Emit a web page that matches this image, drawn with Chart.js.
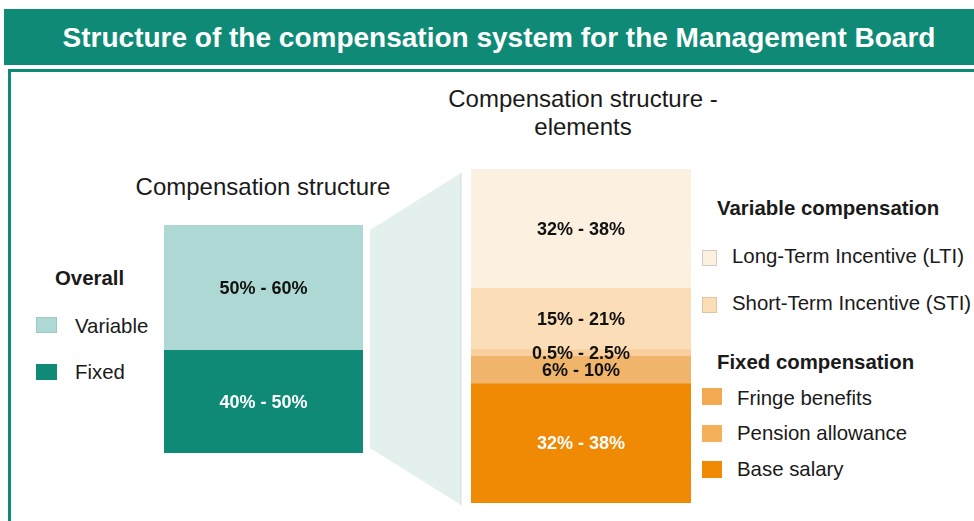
<!DOCTYPE html>
<html>
<head>
<meta charset="utf-8">
<script src="https://cdn.jsdelivr.net/npm/chart.js@4.4.1/dist/chart.umd.min.js"></script>
<style>
  html, body { margin:0; padding:0; background:#fff; }
  body { width:974px; height:521px; position:relative; overflow:hidden; font-family:"Liberation Sans", Arial, sans-serif; color:#1a1a1a; }
  .abs { position:absolute; }
  #titlebar { left:4px; top:9px; width:990px; height:56px; background:#0E8A77; color:#fff; font-weight:bold; font-size:28px; line-height:57px; text-align:center; }
  #frame { left:8px; top:69px; width:990px; height:480px; border:3px solid #0E8A77; box-sizing:border-box; }
  .sub { font-size:24px; text-align:center; line-height:28px; }
  .lg { font-size:20.4px; white-space:nowrap; }
  .lgb { font-weight:bold; }
  .sw { position:absolute; box-sizing:border-box; }
</style>
</head>
<body>
<div id="titlebar" class="abs">Structure of the compensation system for the Management Board</div>
<div id="frame" class="abs"></div>

<svg class="abs" style="left:0;top:0" width="974" height="521">
  <polygon points="370,230 461,173 461,505 370,448" fill="#E4F0ED"/>
  <line x1="461" y1="173" x2="461" y2="505" stroke="#D3DEDB" stroke-width="1"/>
</svg>

<div class="abs sub" style="left:113px; top:173px; width:300px;">Compensation structure</div>
<div class="abs sub" style="left:423px; top:85px; width:320px;">Compensation structure -<br>elements</div>

<canvas id="leftChart" class="abs" width="199" height="228" style="left:164px; top:225px;"></canvas>
<canvas id="rightChart" class="abs" width="220" height="334" style="left:471px; top:169px;"></canvas>

<div id="legends"></div>

<script>
// ---- data ----
const overallLabels = ['Fixed', 'Variable'];
const overallValues = [45, 55];
const overallRanges = ['40% - 50%', '50% - 60%'];

const elementLabels = ['Base salary', 'Pension allowance', 'Fringe benefits', 'Short-Term Incentive (STI)', 'Long-Term Incentive (LTI)'];
const elementValues = [35, 8, 2, 18, 35];
const elementRanges = ['32% - 38%', '6% - 10%', '0.5% - 2.5%', '15% - 21%', '32% - 38%'];

// ---- styles ----
const overallColors = ['#0E8A77', '#ADD8D3'];
const overallText = ['#ffffff', '#111111'];
const elementColors = ['#F08A05', '#F0B56B', '#F9CF9E', '#FBDDB8', '#FCF0E0'];
const elementText = ['#ffffff', '#111111', '#111111', '#111111', '#111111'];

const labelPlugin = {
  id: 'segLabels',
  afterDatasetsDraw(chart) {
    const ctx = chart.ctx;
    ctx.save();
    ctx.font = 'bold 18px "Liberation Sans", Arial, sans-serif';
    ctx.textAlign = 'center';
    ctx.textBaseline = 'middle';
    chart.data.datasets.forEach((ds, i) => {
      const meta = chart.getDatasetMeta(i);
      meta.data.forEach(el => {
        const { x, y, base } = el.getProps(['x', 'y', 'base'], true);
        ctx.fillStyle = ds.textColor;
        ctx.fillText(ds.rangeLabel, x, (y + base) / 2 + 1);
      });
    });
    ctx.restore();
  }
};

function makeChart(id, labels, values, ranges, colors, textColors, max) {
  return new Chart(document.getElementById(id), {
    type: 'bar',
    data: {
      labels: [''],
      datasets: labels.map((l, i) => ({
        label: l,
        data: [values[i]],
        backgroundColor: colors[i],
        borderWidth: 0,
        barPercentage: 1,
        categoryPercentage: 1,
        rangeLabel: ranges[i],
        textColor: textColors[i]
      }))
    },
    options: {
      responsive: false,
      animation: false,
      devicePixelRatio: 1,
      layout: { padding: 0 },
      plugins: { legend: { display: false }, tooltip: { enabled: false } },
      scales: {
        x: { stacked: true, display: false },
        y: { stacked: true, display: false, min: 0, max: max }
      }
    },
    plugins: [labelPlugin]
  });
}

makeChart('leftChart', overallLabels, overallValues, overallRanges, overallColors, overallText,
  overallValues.reduce((a, b) => a + b, 0));
makeChart('rightChart', elementLabels, elementValues, elementRanges, elementColors, elementText,
  elementValues.reduce((a, b) => a + b, 0));

// ---- legends (HTML) ----
const L = document.getElementById('legends');
function txt(s, x, y, cls) {
  const d = document.createElement('div');
  d.className = 'abs lg ' + (cls || '');
  d.style.left = x + 'px'; d.style.top = (y - 11) + 'px';
  d.textContent = s;
  L.appendChild(d);
}
function sw(color, x, y, w, h, border) {
  const d = document.createElement('div');
  d.className = 'sw';
  d.style.left = x + 'px'; d.style.top = y + 'px';
  d.style.width = w + 'px'; d.style.height = h + 'px';
  d.style.background = color;
  if (border) d.style.border = '1px solid ' + border;
  L.appendChild(d);
}
txt('Overall', 55, 278, 'lgb');
sw(overallColors[1], 36, 317, 21, 16, '#9cc8c2');
txt(overallLabels[1], 75, 326);
sw(overallColors[0], 36, 364, 21, 16);
txt(overallLabels[0], 75, 372);

txt('Variable compensation', 717, 208, 'lgb');
sw(elementColors[4], 702, 250, 15, 16, '#d8cbbb');
txt(elementLabels[4], 732, 256);
sw(elementColors[3], 702, 297, 15, 16, '#e0c5a2');
txt(elementLabels[3], 732, 303);
txt('Fixed compensation', 717, 362, 'lgb');
sw('#F3A94F', 702, 388, 20, 17);
txt(elementLabels[2], 737, 398);
sw('#F4B05A', 702, 425, 20, 17);
txt(elementLabels[1], 737, 433);
sw(elementColors[0], 702, 461, 20, 17);
txt(elementLabels[0], 737, 469);
</script>
</body>
</html>
